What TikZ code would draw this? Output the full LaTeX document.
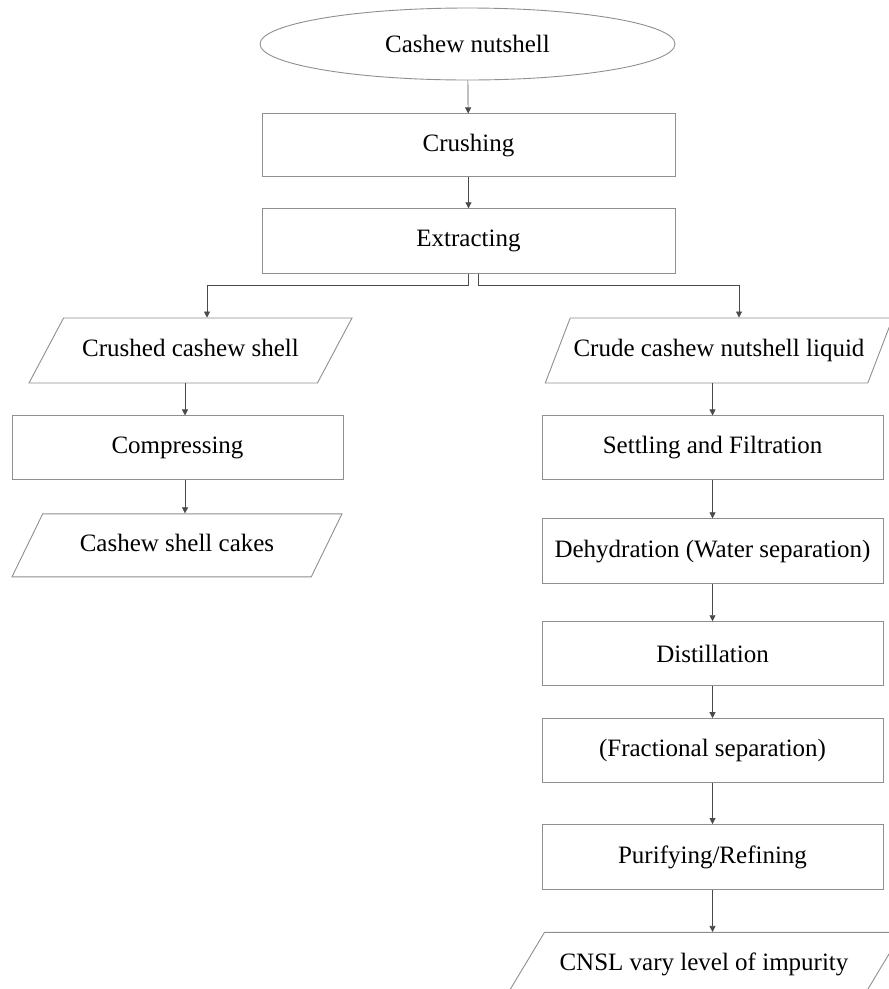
\documentclass[tikz,border=0pt]{standalone}
\usepackage{fontspec}
\setmainfont{Liberation Serif}
\usetikzlibrary{shapes.geometric, arrows.meta, positioning}
\usepackage{xcolor}
\definecolor{boxline}{HTML}{8F8F8F}
\definecolor{arrowline}{HTML}{4A4A4A}
\tikzset{
    startstop/.style={
        ellipse, minimum width=415pt, minimum height=72pt,
        text centered, draw=boxline, line width=0.9pt, font=\fontsize{25}{30}\selectfont
    },
    process/.style={
        rectangle, minimum width=341pt, minimum height=64pt,
        text centered, draw=boxline, line width=0.9pt, font=\fontsize{25}{30}\selectfont
    },
    io/.style={
        trapezium, trapezium stretches body, text height=17pt, text depth=5pt, inner ysep=21.5pt,
        text centered, draw=boxline, line width=0.9pt, font=\fontsize{25}{30}\selectfont
    },
    arrow/.style={
        -{Triangle[length=6pt, width=6pt]}, line width=0.7pt, draw=arrowline
    }
}

\begin{document}
\begin{tikzpicture}[x=1pt, y=1pt]

    \useasboundingbox (0,0) rectangle (889,-989);
    \clip (0,0) rectangle (889,-989);

    \node[startstop]                                                   (nut)      at (467.5,-44) {Cashew nutshell};
    \node[process, minimum width=413pt, minimum height=63pt, below=33pt of nut, xshift=1pt] (crush)   {Crushing};
    \node[process, minimum width=413pt, minimum height=65pt, below=31pt of crush]           (extract) {Extracting};

    % left branch
    \node[io, minimum width=323pt, trapezium left angle=62, trapezium right angle=118] (crushed) at (190.5,-350.5) {Crushed cashew shell};
    \node[process, minimum width=331pt, below=32pt of crushed, xshift=-13pt]            (compress) {Compressing};
    \node[io, minimum width=330pt, inner ysep=20.5pt, trapezium left angle=64, trapezium right angle=116,
          below=33pt of compress, xshift=-0.5pt]                                        (cakes)    {Cashew shell cakes};

    % right branch
    \node[io, minimum width=338pt, trapezium left angle=69, trapezium right angle=111] (crude) at (719,-350.5) {Crude cashew nutshell liquid};
    \node[process, below=32pt of crude, xshift=-6.5pt]          (settle) {Settling and Filtration};
    \node[process, minimum height=65pt, below=38pt of settle]   (dehyd)  {Dehydration (Water separation)};
    \node[process, below=37pt of dehyd]                         (distil) {Distillation};
    \node[process, below=32pt of distil]                        (frac)   {(Fractional separation)};
    \node[process, minimum height=65pt, below=41pt of frac]     (purify) {Purifying/Refining};
    \node[io, minimum width=396pt, inner ysep=21pt, trapezium left angle=59, trapezium right angle=121,
          below=42pt of purify, xshift=-8.5pt]                  (cnsl)   {CNSL vary level of impurity};

    \draw[arrow] (nut)   -- (crush);
    \draw[arrow] (crush) -- (extract);

    \draw[arrow] ([xshift=-0.5pt]extract.south) -- ++(0,-11) -| ([xshift=16.5pt]crushed.north);
    \draw[arrow] ([xshift=9.5pt]extract.south)  -- ++(0,-11) -| ([xshift=20pt]crude.north);

    \draw[arrow] ([xshift=7.5pt]compress.north |- crushed.south) -- ([xshift=7.5pt]compress.north);
    \draw[arrow] ([xshift=7.5pt]compress.south) -- ([xshift=7.5pt]compress.south |- cakes.north);

    \draw[arrow] (settle.north |- crude.south) -- (settle);
    \draw[arrow] (settle) -- (dehyd);
    \draw[arrow] (dehyd)  -- (distil);
    \draw[arrow] (distil) -- (frac);
    \draw[arrow] (frac)   -- (purify);
    \draw[arrow] (purify) -- (purify.south |- cnsl.north);

\end{tikzpicture}
\end{document}
